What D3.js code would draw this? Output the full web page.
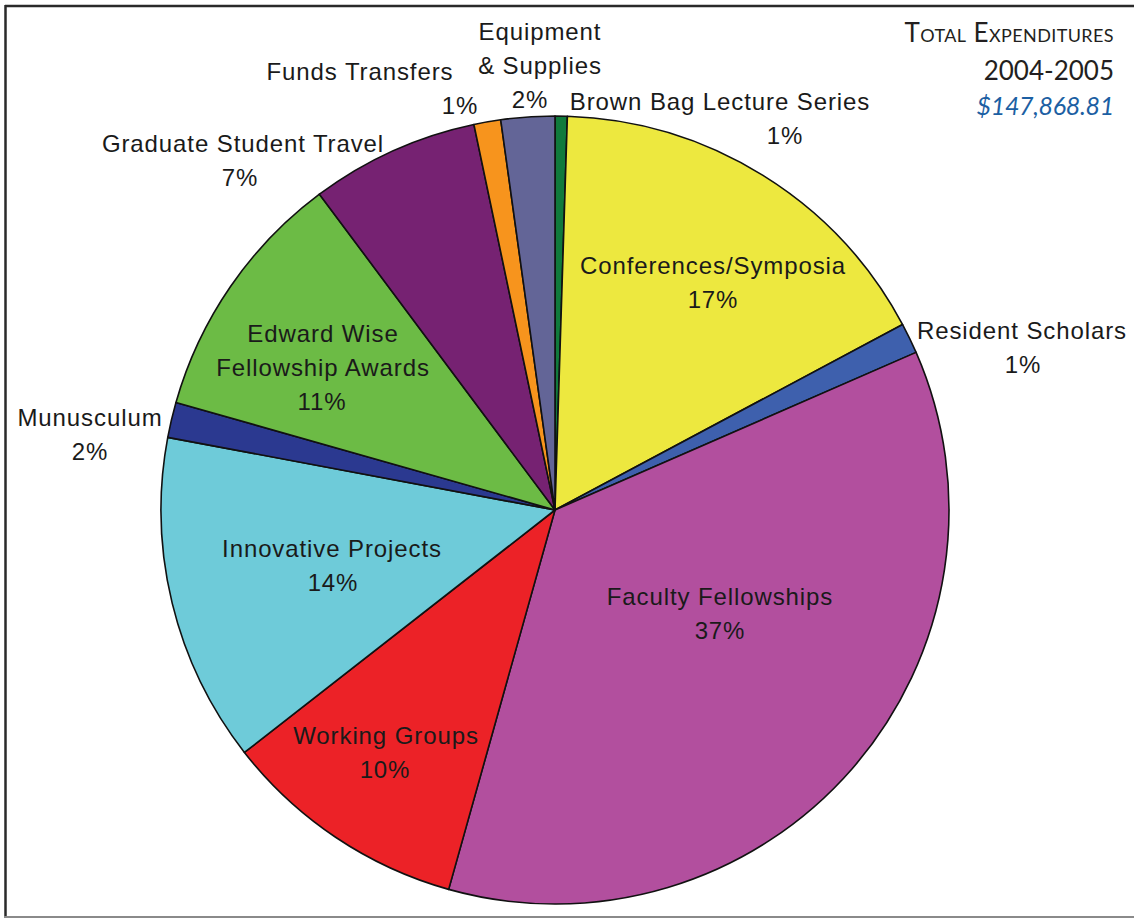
<!DOCTYPE html>
<html>
<head>
<meta charset="utf-8">
<script src="https://cdn.jsdelivr.net/npm/d3@7"></script>
<style>
  html, body { margin: 0; padding: 0; background: #fff; }
  svg { display: block; }
</style>
</head>
<body>
<svg id="chart" width="1134" height="918"></svg>
<script>
// ---- data (clockwise from 12 o'clock) ----
const categories = [
  "Brown Bag Lecture Series",
  "Conferences/Symposia",
  "Resident Scholars",
  "Faculty Fellowships",
  "Working Groups",
  "Innovative Projects",
  "Munusculum",
  "Edward Wise Fellowship Awards",
  "Graduate Student Travel",
  "Funds Transfers",
  "Equipment & Supplies"
];
const shares = [0.5, 16.7, 1.25, 35.9, 10.1, 13.5, 1.45, 10.4, 6.9, 1.1, 2.2];
const percentLabels = ["1%", "17%", "1%", "37%", "10%", "14%", "2%", "11%", "7%", "1%", "2%"];
const labelLines = [
  ["Brown Bag Lecture Series"],
  ["Conferences/Symposia"],
  ["Resident Scholars"],
  ["Faculty Fellowships"],
  ["Working Groups"],
  ["Innovative Projects"],
  ["Munusculum"],
  ["Edward Wise", "Fellowship Awards"],
  ["Graduate Student Travel"],
  ["Funds Transfers"],
  ["Equipment", "& Supplies"]
];
const titleLines = ["Total Expenditures", "2004-2005", "$147,868.81"];

// ---- styles / layout ----
const colors = ["#107a3c", "#ede83f", "#3e60ad", "#b24f9e", "#ec2227", "#6ecbd9",
                "#2b3990", "#6cbb45", "#762272", "#f7941d", "#636597"];
// label anchor: [x of name lines, baseline of first line, x of percent line]
const labelPos = [
  [720, 110, 785],
  [713, 274, 713],
  [1022, 339, 1023],
  [720, 605, 720],
  [386, 744, 385],
  [332, 557, 333],
  [90, 426, 90],
  [323, 342, 322],
  [243, 152, 240],
  [360, 80, 460],
  [540, 40, 530]
];
const cx = 555, cy = 510, R = 394;
const lineH = 34;

const svg = d3.select("#chart");

// frame
svg.append("line").attr("x1", 5).attr("x2", 1134).attr("y1", 6).attr("y2", 6)
  .attr("stroke", "#2a2a2a").attr("stroke-width", 2.5);
svg.append("line").attr("x1", 5.5).attr("x2", 5.5).attr("y1", 5).attr("y2", 918)
  .attr("stroke", "#2a2a2a").attr("stroke-width", 2.5);
svg.append("line").attr("x1", 4).attr("x2", 1134).attr("y1", 917).attr("y2", 917)
  .attr("stroke", "#8a8a8a").attr("stroke-width", 2);

const pie = d3.pie().sort(null).value(d => d).startAngle(0).endAngle(2 * Math.PI);
const arc = d3.arc().innerRadius(0).outerRadius(R);
const arcs = pie(shares);

const g = svg.append("g").attr("transform", `translate(${cx},${cy})`);
g.selectAll("path").data(arcs).join("path")
  .attr("d", arc)
  .attr("fill", (d, i) => colors[i])
  .attr("stroke", "#111")
  .attr("stroke-width", 1.6)
  .attr("stroke-linejoin", "round");

// labels
const lab = svg.append("g")
  .attr("font-family", "'Liberation Sans', Arial, sans-serif")
  .attr("font-size", 24)
  .attr("letter-spacing", "0.9px")
  .attr("fill", "#1a1a1a")
  .attr("text-anchor", "middle");

categories.forEach((c, i) => {
  const [x, y, px] = labelPos[i];
  labelLines[i].forEach((t, j) => {
    lab.append("text").attr("x", x).attr("y", y + j * lineH).text(t);
  });
  lab.append("text").attr("x", px).attr("y", y + labelLines[i].length * lineH)
    .text(percentLabels[i]);
});

// title block
const tg = svg.append("g").attr("text-anchor", "end")
  .attr("font-family", "Lato, 'Open Sans', sans-serif")
  .attr("font-weight", 400);
tg.append("text").attr("x", 1114).attr("y", 42)
  .attr("font-size", 26).attr("fill", "#231f20")
  .attr("font-variant", "small-caps").attr("letter-spacing", "0.4px")
  .text(titleLines[0]);
tg.append("text").attr("x", 1114).attr("y", 80)
  .attr("font-size", 26).attr("fill", "#231f20")
  .text(titleLines[1]);
tg.append("text").attr("x", 1114).attr("y", 115)
  .attr("font-size", 25).attr("font-style", "italic").attr("fill", "#1c5fa3")
  .attr("letter-spacing", "-0.3px")
  .text(titleLines[2]);
</script>
</body>
</html>
